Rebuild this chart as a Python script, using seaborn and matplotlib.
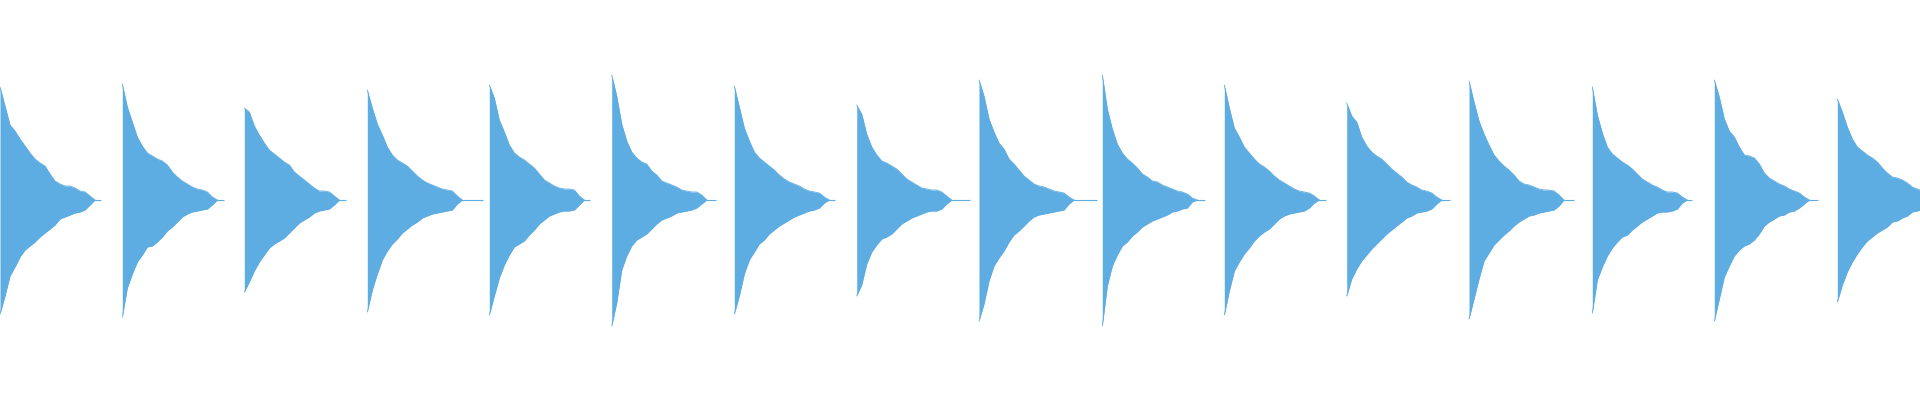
import numpy as np
import pandas as pd
import matplotlib
matplotlib.use("Agg")
import matplotlib.pyplot as plt
import seaborn as sns

# start of each hit (ms) and where its faint tail stops (ms after the start)
ONSETS = [0, 122.3, 244.3, 367.3, 489.3, 611.7, 734.3, 856.7,
          979, 1102.3, 1224.3, 1346.7, 1469, 1592.3, 1714.3, 1837.3]
TAIL_END = [101, 102, 102, 116, 101, 104, 101, 113, 118, 103, 102, 103, 105, 100, 104, 100]

# envelope sampled every 5 ms after the onset (amplitude, full scale = 200)
OFFSETS = list(range(0, 100, 5))

ENV_TOP = [
    [113, 94, 75, 69, 61, 54, 47, 41, 37, 34, 26, 19, 16, 14, 14, 12, 9, 8, 4, 0],
    [116, 93, 78, 63, 54, 47, 44, 41, 39, 35, 28, 23, 19, 16, 13, 11, 10, 8, 3, 0],
    [92, 88, 74, 65, 57, 50, 46, 42, 38, 35, 28, 24, 20, 16, 12, 9, 9, 8, 4, 0],
    [110, 92, 76, 65, 53, 45, 40, 37, 34, 29, 24, 20, 17, 15, 13, 11, 10, 9, 4, 0],
    [115, 102, 80, 68, 55, 47, 43, 40, 36, 32, 26, 20, 17, 14, 12, 11, 11, 10, 4, 0],
    [125, 104, 76, 59, 48, 42, 38, 36, 29, 25, 19, 17, 15, 13, 10, 9, 8, 8, 5, 0],
    [114, 93, 72, 59, 48, 42, 38, 34, 30, 25, 21, 18, 16, 14, 11, 9, 8, 7, 3, 0],
    [95, 86, 66, 53, 45, 39, 37, 34, 31, 26, 21, 18, 15, 12, 11, 10, 10, 8, 4, 0],
    [120, 104, 81, 68, 57, 51, 41, 36, 30, 24, 20, 16, 14, 13, 11, 9, 8, 7, 3, 0],
    [125, 91, 71, 56, 47, 41, 37, 32, 26, 23, 19, 18, 15, 13, 11, 9, 8, 6, 2, 0],
    [115, 92, 72, 63, 53, 47, 41, 36, 33, 29, 24, 20, 17, 14, 11, 9, 8, 7, 4, 0],
    [97, 84, 78, 63, 54, 48, 44, 41, 36, 31, 27, 23, 18, 15, 13, 10, 9, 7, 3, 0],
    [119, 98, 79, 66, 55, 45, 39, 34, 30, 25, 19, 16, 15, 13, 11, 10, 10, 9, 5, 0],
    [113, 85, 67, 53, 46, 42, 38, 35, 31, 26, 21, 18, 15, 13, 10, 8, 8, 7, 3, 0],
    [120, 103, 81, 69, 63, 53, 45, 44, 42, 36, 27, 22, 19, 16, 14, 11, 9, 7, 3, 0],
    [101, 88, 73, 61, 53, 49, 45, 42, 38, 32, 27, 23, 22, 20, 17, 13, 11, 9, 4, 0],
]

ENV_BOTTOM = [
    [114, 96, 76, 67, 57, 50, 46, 42, 37, 33, 29, 25, 19, 17, 15, 13, 12, 10, 5, 0],
    [117, 88, 74, 62, 55, 47, 46, 42, 37, 31, 27, 22, 17, 14, 12, 11, 10, 9, 5, 0],
    [92, 82, 71, 62, 55, 48, 44, 41, 38, 33, 28, 23, 20, 17, 13, 11, 10, 9, 5, 0],
    [112, 90, 74, 60, 51, 44, 39, 33, 29, 25, 22, 18, 16, 14, 13, 12, 11, 10, 4, 0],
    [115, 96, 78, 65, 55, 47, 44, 41, 35, 30, 24, 20, 16, 14, 12, 11, 11, 10, 5, 0],
    [126, 103, 70, 56, 46, 40, 37, 34, 29, 24, 20, 18, 16, 13, 12, 11, 10, 8, 4, 0],
    [114, 96, 74, 60, 52, 44, 40, 34, 30, 26, 23, 20, 17, 15, 13, 11, 10, 8, 3, 0],
    [96, 85, 64, 52, 45, 39, 37, 34, 29, 24, 21, 18, 16, 14, 12, 11, 11, 9, 4, 0],
    [121, 104, 81, 66, 58, 51, 42, 35, 31, 26, 21, 17, 15, 14, 13, 12, 11, 10, 4, 0],
    [126, 86, 66, 55, 46, 42, 36, 32, 27, 24, 21, 19, 17, 15, 12, 11, 9, 8, 2, 0],
    [115, 91, 71, 62, 54, 48, 41, 36, 32, 29, 24, 19, 16, 14, 13, 12, 11, 8, 3, 0],
    [96, 79, 69, 61, 55, 49, 44, 39, 34, 30, 26, 22, 18, 16, 13, 12, 11, 9, 4, 0],
    [119, 99, 79, 61, 53, 45, 40, 35, 31, 26, 22, 19, 16, 15, 13, 12, 11, 10, 6, 0],
    [113, 80, 67, 56, 48, 42, 37, 35, 30, 26, 22, 19, 16, 13, 12, 12, 11, 9, 3, 0],
    [121, 99, 77, 66, 56, 50, 46, 44, 40, 34, 26, 22, 19, 16, 15, 12, 11, 8, 4, 0],
    [102, 85, 72, 62, 54, 47, 41, 37, 33, 30, 27, 22, 21, 18, 16, 12, 11, 9, 4, 0],
]

COLOR = "#5DADE2"
FULL_SCALE = 200.0

rows = []
for i, onset in enumerate(ONSETS):
    for off, top, bot in zip(OFFSETS, ENV_TOP[i], ENV_BOTTOM[i]):
        rows.append({"hit": i, "t": onset + off,
                     "top": top / FULL_SCALE, "bottom": -bot / FULL_SCALE})
df = pd.DataFrame(rows)

sns.set_theme(style="white")
fig = plt.figure(figsize=(19.2, 4), dpi=100)
ax = fig.add_axes([0, 0, 1, 1])

for i, grp in df.groupby("hit"):
    ax.fill_between(grp["t"], grp["bottom"], grp["top"], color=COLOR, linewidth=0)
    # thin tail that trails off after the hit
    ax.hlines(0, ONSETS[i] + OFFSETS[-2], ONSETS[i] + TAIL_END[i], color=COLOR, linewidth=0.8)

sns.lineplot(data=df, x="t", y="top", units="hit", estimator=None,
             color=COLOR, linewidth=0.6, ax=ax)
sns.lineplot(data=df, x="t", y="bottom", units="hit", estimator=None,
             color=COLOR, linewidth=0.6, ax=ax)

ax.set_xlim(0, 1920)
ax.set_ylim(-1, 1)
ax.axis("off")

fig.savefig("out.png", dpi=100, facecolor="white")
plt.close(fig)
